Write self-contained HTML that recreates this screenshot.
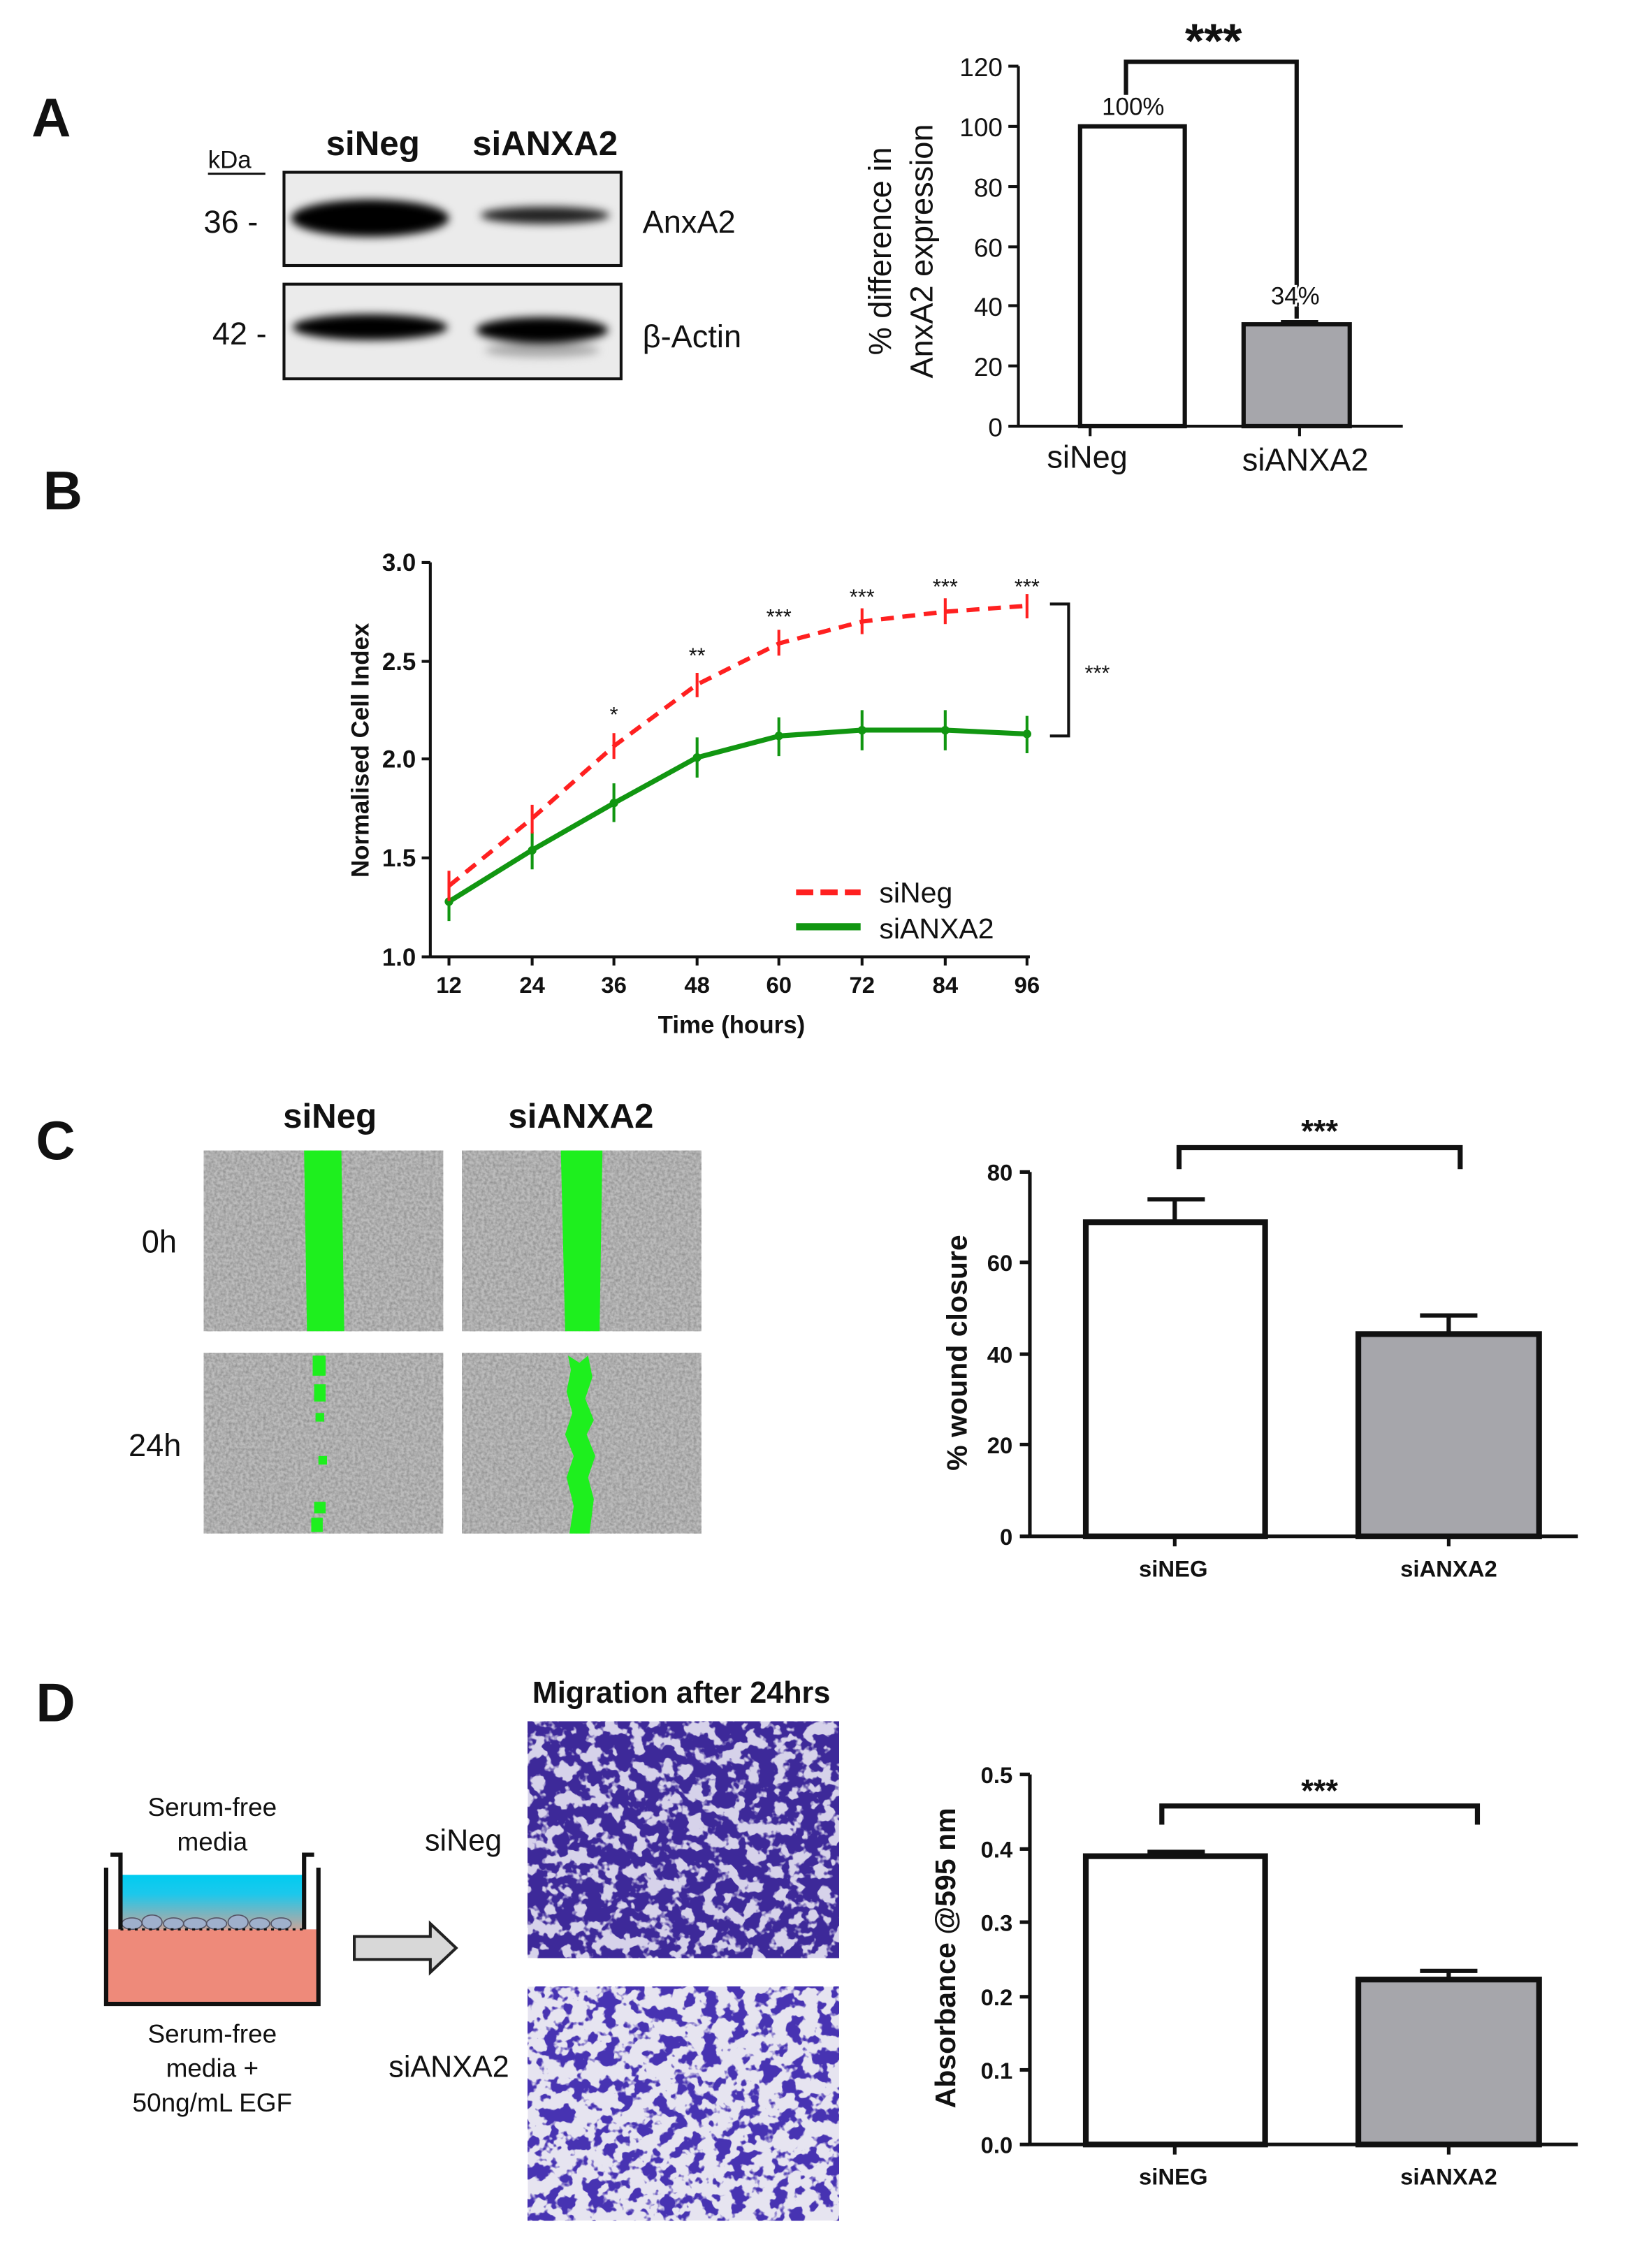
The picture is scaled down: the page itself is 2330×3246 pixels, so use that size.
<!DOCTYPE html>
<html><head><meta charset="utf-8"><style>
html,body{margin:0;padding:0;background:#fff}
svg{display:block}
text{font-family:"Liberation Sans",Arial,sans-serif;fill:#111}
.b{font-weight:bold}
filter{color-interpolation-filters:sRGB}
</style></head><body>
<svg width="2330" height="3246" viewBox="0 0 1135 1581" xmlns="http://www.w3.org/2000/svg">
<defs>
<filter id="gray" x="0" y="0" width="100%" height="100%" color-interpolation-filters="sRGB">
<feTurbulence type="fractalNoise" baseFrequency="0.5" numOctaves="2" seed="3"/>
<feColorMatrix type="matrix" values="0 0 0 0 0.45 0 0 0 0 0.45 0 0 0 0 0.45 1.0 0 0 0 -0.3"/>
</filter>
<filter id="purp" x="0" y="0" width="100%" height="100%" color-interpolation-filters="sRGB">
<feTurbulence type="fractalNoise" baseFrequency="0.1" numOctaves="3" seed="7"/>
<feColorMatrix type="matrix" values="0 0 0 0 0.24 0 0 0 0 0.16 0 0 0 0 0.6 12 0 0 0 -5.0"/>
</filter>
<filter id="purp2" x="0" y="0" width="100%" height="100%" color-interpolation-filters="sRGB">
<feTurbulence type="fractalNoise" baseFrequency="0.1" numOctaves="3" seed="11"/>
<feColorMatrix type="matrix" values="0 0 0 0 0.28 0 0 0 0 0.2 0 0 0 0 0.7 12 0 0 0 -6.0"/>
</filter>
<filter id="blur3"><feGaussianBlur stdDeviation="3"/></filter>
<linearGradient id="med" x1="0" y1="0" x2="0" y2="1"><stop offset="0" stop-color="#00ccf0"/><stop offset="0.35" stop-color="#1cc8ec"/><stop offset="1" stop-color="#c5a59c"/></linearGradient>
</defs>

<!-- ===== Panel A ===== -->
<text x="22" y="95" class="b" font-size="38">A</text>
<text x="145" y="117" font-size="17">kDa</text>
<line x1="145" y1="121" x2="185" y2="121" stroke="#111" stroke-width="1.5"/>
<text x="260" y="108" class="b" font-size="24" text-anchor="middle">siNeg</text>
<text x="380" y="108" class="b" font-size="24" text-anchor="middle">siANXA2</text>
<rect x="198" y="120" width="235" height="65" fill="#ebebeb" stroke="#111" stroke-width="2"/>
<rect x="198" y="198" width="235" height="66" fill="#ebebeb" stroke="#111" stroke-width="2"/>
<g filter="url(#blur3)">
<ellipse cx="258" cy="152" rx="55" ry="13" fill="#000"/>
<ellipse cx="380" cy="150" rx="45" ry="6" fill="#222"/>
<ellipse cx="258" cy="228" rx="54" ry="9" fill="#000"/>
<ellipse cx="378" cy="230" rx="46" ry="9" fill="#000"/>
<ellipse cx="378" cy="244" rx="40" ry="5" fill="#aaa"/>
</g>
<text x="142" y="162" font-size="22">36 -</text>
<text x="148" y="240" font-size="22">42 -</text>
<text x="448" y="162" font-size="22">AnxA2</text>
<text x="448" y="242" font-size="22">β-Actin</text>

<g stroke="#111" stroke-width="2" fill="none">
<line x1="710" y1="46" x2="710" y2="297"/>
<line x1="703" y1="297" x2="978" y2="297"/>
<line x1="703" y1="46" x2="710" y2="46"/><line x1="703" y1="88" x2="710" y2="88"/><line x1="703" y1="130" x2="710" y2="130"/>
<line x1="703" y1="172" x2="710" y2="172"/><line x1="703" y1="213" x2="710" y2="213"/><line x1="703" y1="255" x2="710" y2="255"/>
<line x1="760" y1="297" x2="760" y2="304"/><line x1="906" y1="297" x2="906" y2="304"/>
</g>
<rect x="753" y="88" width="73" height="209" fill="#fff" stroke="#111" stroke-width="3"/>
<rect x="867" y="226" width="74" height="71" fill="#a6a6ab" stroke="#111" stroke-width="3"/>
<line x1="893" y1="224" x2="919" y2="224" stroke="#111" stroke-width="2"/>
<path d="M785 66 V43 H904 V222" fill="none" stroke="#111" stroke-width="3"/>
<text x="846" y="40" class="b" font-size="34" text-anchor="middle">***</text>
<text x="790" y="80" font-size="17" text-anchor="middle">100%</text>
<text x="903" y="212" font-size="17" text-anchor="middle" style="paint-order:stroke" stroke="#fff" stroke-width="3">34%</text>
<g font-size="18" text-anchor="end">
<text x="699" y="53">120</text><text x="699" y="95">100</text><text x="699" y="137">80</text><text x="699" y="179">60</text>
<text x="699" y="220">40</text><text x="699" y="262">20</text><text x="699" y="304">0</text>
</g>
<text x="758" y="326" font-size="22" text-anchor="middle">siNeg</text>
<text x="910" y="328" font-size="22" text-anchor="middle">siANXA2</text>
<text transform="translate(621,175) rotate(-90)" font-size="22" text-anchor="middle">% difference in</text>
<text transform="translate(650,175) rotate(-90)" font-size="22" text-anchor="middle">AnxA2 expression</text>

<!-- ===== Panel B ===== -->
<text x="30" y="355" class="b" font-size="38">B</text>
<g stroke="#111" stroke-width="2" fill="none">
<line x1="300" y1="392" x2="300" y2="667"/>
<line x1="300" y1="667" x2="718" y2="667"/>
<line x1="294" y1="392" x2="300" y2="392"/><line x1="294" y1="461" x2="300" y2="461"/><line x1="294" y1="529" x2="300" y2="529"/><line x1="294" y1="598" x2="300" y2="598"/><line x1="294" y1="667" x2="300" y2="667"/>
<line x1="313" y1="667" x2="313" y2="673"/><line x1="371" y1="667" x2="371" y2="673"/><line x1="428" y1="667" x2="428" y2="673"/><line x1="486" y1="667" x2="486" y2="673"/><line x1="543" y1="667" x2="543" y2="673"/><line x1="601" y1="667" x2="601" y2="673"/><line x1="659" y1="667" x2="659" y2="673"/><line x1="716" y1="667" x2="716" y2="673"/>
</g>
<g class="b" font-size="17" text-anchor="end" font-weight="bold">
<text x="290" y="398">3.0</text><text x="290" y="467">2.5</text><text x="290" y="535">2.0</text><text x="290" y="604">1.5</text><text x="290" y="673">1.0</text>
</g>
<g font-size="16" text-anchor="middle" font-weight="bold">
<text x="313" y="692">12</text><text x="371" y="692">24</text><text x="428" y="692">36</text><text x="486" y="692">48</text><text x="543" y="692">60</text><text x="601" y="692">72</text><text x="659" y="692">84</text><text x="716" y="692">96</text>
</g>
<text x="510" y="720" font-size="17" font-weight="bold" text-anchor="middle">Time (hours)</text>
<text transform="translate(257,523) rotate(-90)" font-size="17" font-weight="bold" text-anchor="middle">Normalised Cell Index</text>
<polyline points="313,628.5 370.6,592.75 428.2,559.75 485.7,528.1 543.3,513 600.9,508.9 658.5,508.9 716,511.6" fill="none" stroke="#119611" stroke-width="3.5"/>
<g stroke="#119611" stroke-width="2">
<line x1="313" y1="615" x2="313" y2="642"/><line x1="371" y1="580" x2="371" y2="606"/><line x1="428" y1="546" x2="428" y2="573"/><line x1="486" y1="514" x2="486" y2="542"/><line x1="543" y1="500" x2="543" y2="527"/><line x1="601" y1="495" x2="601" y2="523"/><line x1="659" y1="495" x2="659" y2="523"/><line x1="716" y1="499" x2="716" y2="525"/>
</g>
<g fill="#119611"><circle cx="313" cy="628.5" r="3"/><circle cx="371" cy="592.75" r="3"/><circle cx="428" cy="559.75" r="3"/><circle cx="486" cy="528" r="3"/><circle cx="543" cy="513" r="3"/><circle cx="601" cy="509" r="3"/><circle cx="659" cy="509" r="3"/><circle cx="716" cy="511.6" r="3"/></g>
<polyline points="313,617.5 370.6,570.75 428.2,519.9 485.7,477.25 543.3,448.4 600.9,433.25 658.5,426.4 716,422.25" fill="none" stroke="#ff2020" stroke-width="3" stroke-dasharray="9,6"/>
<g stroke="#ff2020" stroke-width="2">
<line x1="313" y1="607" x2="313" y2="628"/><line x1="371" y1="561" x2="371" y2="581"/><line x1="428" y1="511" x2="428" y2="529"/><line x1="486" y1="469" x2="486" y2="486"/><line x1="543" y1="439" x2="543" y2="457"/><line x1="601" y1="424" x2="601" y2="442"/><line x1="659" y1="417" x2="659" y2="435"/><line x1="716" y1="414" x2="716" y2="431"/>
</g>
<g font-size="15" text-anchor="middle">
<text x="428" y="503">*</text><text x="486" y="462">**</text><text x="543" y="435">***</text><text x="601" y="421">***</text><text x="659" y="414">***</text><text x="716" y="414">***</text>
</g>
<path d="M732 421 H745 V513 H732" fill="none" stroke="#111" stroke-width="2"/>
<text x="765" y="474" font-size="15" text-anchor="middle">***</text>
<line x1="555" y1="622" x2="600" y2="622" stroke="#ff2020" stroke-width="4" stroke-dasharray="12,5"/>
<line x1="555" y1="646" x2="600" y2="646" stroke="#119611" stroke-width="5"/>
<text x="613" y="629" font-size="20">siNeg</text>
<text x="613" y="654" font-size="20">siANXA2</text>

<!-- ===== Panel C ===== -->
<text x="25" y="808" class="b" font-size="38">C</text>
<text x="230" y="786" class="b" font-size="24" text-anchor="middle">siNeg</text>
<text x="405" y="786" class="b" font-size="24" text-anchor="middle">siANXA2</text>
<g>
<rect x="142" y="802" width="167" height="126" fill="#bcbcbc"/><rect x="142" y="802" width="167" height="126" filter="url(#gray)"/>
<rect x="322" y="802" width="167" height="126" fill="#bcbcbc"/><rect x="322" y="802" width="167" height="126" filter="url(#gray)"/>
<rect x="142" y="943" width="167" height="126" fill="#bcbcbc"/><rect x="142" y="943" width="167" height="126" filter="url(#gray)"/>
<rect x="322" y="943" width="167" height="126" fill="#bcbcbc"/><rect x="322" y="943" width="167" height="126" filter="url(#gray)"/>
</g>
<polygon points="212,802 238,802 240,928 214,928" fill="#1eef1e"/>
<polygon points="391,802 420,802 418,928 394,928" fill="#1eef1e"/>
<g fill="#1eef1e">
<rect x="218" y="945" width="9" height="14"/><rect x="219" y="965" width="8" height="12"/><rect x="220" y="985" width="6" height="6"/><rect x="222" y="1015" width="6" height="6"/><rect x="219" y="1047" width="8" height="8"/><rect x="217" y="1058" width="8" height="10"/>
<polygon points="396,945 404,950 410,945 413,960 408,975 414,990 409,1000 415,1015 410,1030 414,1045 411,1069 397,1069 400,1050 395,1030 400,1015 394,1000 399,985 395,970 398,955"/>
</g>
<text x="111" y="873" font-size="22" text-anchor="middle">0h</text>
<text x="108" y="1015" font-size="22" text-anchor="middle">24h</text>
<g stroke="#111" stroke-width="2.5" fill="none">
<line x1="718" y1="817" x2="718" y2="1071"/><line x1="718" y1="1071" x2="1100" y2="1071"/>
<line x1="711" y1="817" x2="718" y2="817"/><line x1="711" y1="880" x2="718" y2="880"/><line x1="711" y1="944" x2="718" y2="944"/><line x1="711" y1="1007" x2="718" y2="1007"/><line x1="711" y1="1071" x2="718" y2="1071"/>
<line x1="819" y1="1071" x2="819" y2="1078"/><line x1="1010" y1="1071" x2="1010" y2="1078"/>
</g>
<rect x="757" y="852" width="125" height="219" fill="#fff" stroke="#111" stroke-width="4"/>
<rect x="947" y="930" width="126" height="141" fill="#a6a6ab" stroke="#111" stroke-width="4"/>
<path d="M800 836 H840 M819 836 V852 M990 917 H1030 M1010 917 V930" stroke="#111" stroke-width="3"/>
<path d="M822 815 V800 H1018 V815" fill="none" stroke="#111" stroke-width="3.5"/>
<text x="920" y="796" font-size="22" font-weight="bold" text-anchor="middle">***</text>
<g font-size="16" font-weight="bold" text-anchor="end">
<text x="706" y="823">80</text><text x="706" y="886">60</text><text x="706" y="950">40</text><text x="706" y="1013">20</text><text x="706" y="1077">0</text>
</g>
<text x="818" y="1099" font-size="16" font-weight="bold" text-anchor="middle">siNEG</text>
<text x="1010" y="1099" font-size="16" font-weight="bold" text-anchor="middle">siANXA2</text>
<text transform="translate(674,943) rotate(-90)" font-size="20" font-weight="bold" text-anchor="middle">% wound closure</text>

<!-- ===== Panel D ===== -->
<text x="25" y="1200" class="b" font-size="38">D</text>
<text x="475" y="1187" font-size="21" font-weight="bold" text-anchor="middle">Migration after 24hrs</text>
<rect x="368" y="1200" width="217" height="165" fill="#d6d2ea"/><rect x="368" y="1200" width="217" height="165" filter="url(#purp)"/>
<rect x="368" y="1385" width="217" height="163" fill="#e6e4f0"/><rect x="368" y="1385" width="217" height="163" filter="url(#purp2)"/>
<text x="323" y="1290" font-size="21" text-anchor="middle">siNeg</text>
<text x="313" y="1448" font-size="21" text-anchor="middle">siANXA2</text>
<text x="148" y="1266" font-size="18" text-anchor="middle">Serum-free</text>
<text x="148" y="1290" font-size="18" text-anchor="middle">media</text>
<text x="148" y="1424" font-size="18" text-anchor="middle">Serum-free</text>
<text x="148" y="1448" font-size="18" text-anchor="middle">media +</text>
<text x="148" y="1472" font-size="18" text-anchor="middle">50ng/mL EGF</text>
<rect x="74" y="1345" width="148" height="52" fill="#ee8a7a"/>
<rect x="84" y="1307" width="128" height="38" fill="url(#med)"/>
<g fill="#9fb0cc" stroke="#556" stroke-width="0.8">
<ellipse cx="92" cy="1341" rx="7" ry="4"/><ellipse cx="106" cy="1340" rx="7" ry="5"/><ellipse cx="121" cy="1341" rx="7" ry="4"/><ellipse cx="136" cy="1341" rx="8" ry="4"/><ellipse cx="151" cy="1341" rx="7" ry="4"/><ellipse cx="166" cy="1340" rx="7" ry="5"/><ellipse cx="181" cy="1341" rx="7" ry="4"/><ellipse cx="196" cy="1341" rx="7" ry="4"/>
</g>
<line x1="84" y1="1345" x2="212" y2="1345" stroke="#111" stroke-width="1.5" stroke-dasharray="2,3"/>
<path d="M74 1302 V1397 H222 V1302" fill="none" stroke="#111" stroke-width="3"/>
<path d="M77 1293 H84 V1345 M219 1293 H212 V1345" fill="none" stroke="#111" stroke-width="3"/>
<polygon points="247,1350 300,1350 300,1341 318,1358 300,1375 300,1366 247,1366" fill="#d8d8d8" stroke="#222" stroke-width="2"/>
<g stroke="#111" stroke-width="2.5" fill="none">
<line x1="718" y1="1237" x2="718" y2="1495"/><line x1="718" y1="1495" x2="1100" y2="1495"/>
<line x1="711" y1="1237" x2="718" y2="1237"/><line x1="711" y1="1289" x2="718" y2="1289"/><line x1="711" y1="1340" x2="718" y2="1340"/><line x1="711" y1="1392" x2="718" y2="1392"/><line x1="711" y1="1443" x2="718" y2="1443"/><line x1="711" y1="1495" x2="718" y2="1495"/>
<line x1="819" y1="1495" x2="819" y2="1502"/><line x1="1010" y1="1495" x2="1010" y2="1502"/>
</g>
<rect x="757" y="1294" width="125" height="201" fill="#fff" stroke="#111" stroke-width="4"/>
<rect x="947" y="1380" width="126" height="115" fill="#a6a6ab" stroke="#111" stroke-width="4"/>
<path d="M800 1291 H840 M990 1374 H1030 M1010 1374 V1380" stroke="#111" stroke-width="3"/>
<path d="M810 1272 V1259 H1030 V1272" fill="none" stroke="#111" stroke-width="3.5"/>
<text x="920" y="1256" font-size="22" font-weight="bold" text-anchor="middle">***</text>
<g font-size="16" font-weight="bold" text-anchor="end">
<text x="706" y="1243">0.5</text><text x="706" y="1295">0.4</text><text x="706" y="1346">0.3</text><text x="706" y="1398">0.2</text><text x="706" y="1449">0.1</text><text x="706" y="1501">0.0</text>
</g>
<text x="818" y="1523" font-size="16" font-weight="bold" text-anchor="middle">siNEG</text>
<text x="1010" y="1523" font-size="16" font-weight="bold" text-anchor="middle">siANXA2</text>
<text transform="translate(666,1365) rotate(-90)" font-size="20" font-weight="bold" text-anchor="middle">Absorbance @595 nm</text>
</svg>
</body></html>
